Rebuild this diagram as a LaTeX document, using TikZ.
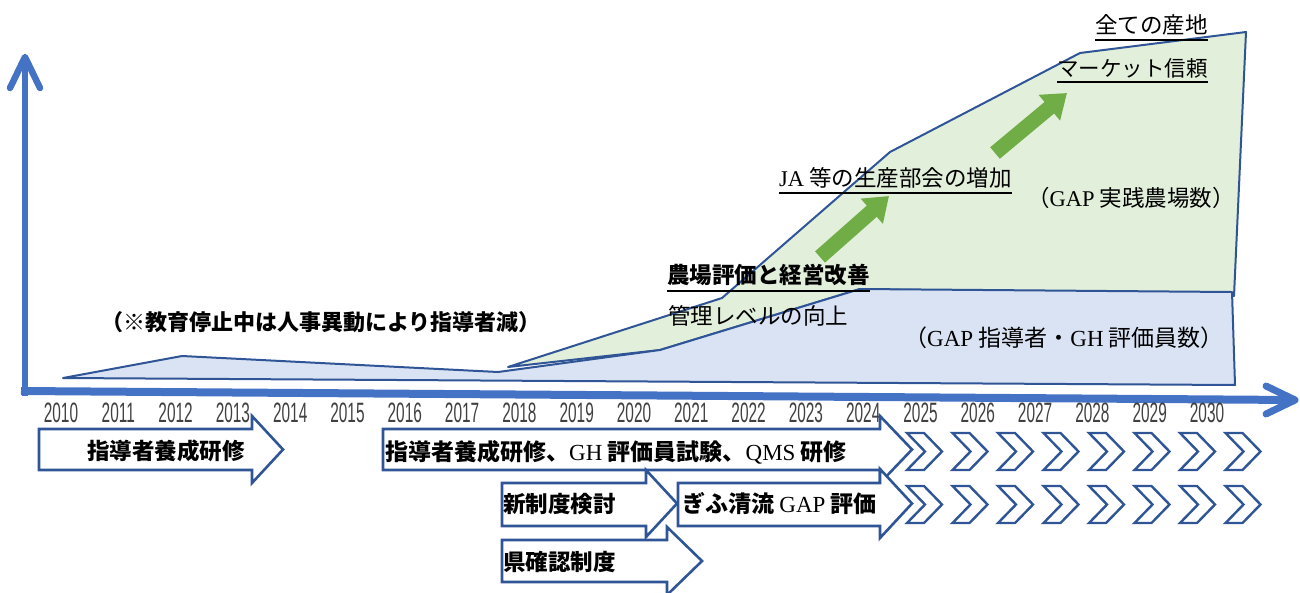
\documentclass[tikz,border=0pt]{standalone}
\usepackage{fontspec}
\setmainfont{Noto Sans CJK JP}
\newfontfamily\lser{Liberation Serif}
\newfontfamily\yfont[FakeStretch=0.55]{Liberation Sans}
\usetikzlibrary{arrows.meta,calc}
\definecolor{axisblue}{HTML}{4472C4}
\definecolor{edge}{HTML}{2F5597}
\definecolor{gfill}{HTML}{E2EFDA}
\definecolor{bfill}{HTML}{DAE3F3}
\definecolor{garrow}{HTML}{70AD47}
\definecolor{yeargray}{HTML}{404040}
\newcommand\fsz[1]{\fontsize{#1}{#1}\selectfont}
\newcommand\lat[1]{{\lser\mdseries #1}}
\begin{document}
\begin{tikzpicture}[x=1pt,y=-1pt,
  lbl/.style={inner sep=0pt, text=black},
  area/.style={draw=edge, line width=2pt, line join=round},
  blk/.style={draw=edge, line width=2.6pt, fill=white, line join=miter},
  chev/.style={draw=edge, line width=2.4pt, fill=white, line join=miter},
  axis/.style={draw=axisblue, line width=7pt},
  uline/.style={draw=black, line width=2.2pt},
  garr/.style={draw=garrow, line width=15pt, -{Triangle[width=32pt,length=23pt]}},
  year/.style={inner sep=0pt, text=yeargray, font=\yfont\fsz{28pt}},
]
\useasboundingbox (0,0) rectangle (1300,592);

% areas
\draw[area, fill=gfill] (508,367) -- (722,298) -- (890,152) -- (1080,53) -- (1246,32)
   -- (1234,296) -- (860,289) -- (660,350) -- cycle;
\draw[area, fill=bfill] (63,378) -- (182,356) -- (498,372) -- (660,350) -- (860,289)
   -- (1232,292) -- (1235,385) -- cycle;

% green growth arrows
\coordinate (g1s) at (820,257);
\coordinate (g1e) at (889,196);
\coordinate (g2s) at (995,153);
\coordinate (g2e) at (1067,93);
\draw[garr] (g1s) -- (g1e);
\draw[garr] (g2s) -- (g2e);

% labels in chart
\node[lbl, font=\bfseries\fsz{22pt}] (note) at (321,322) {（※教育停止中は人事異動により指導者減）};
\node[lbl, font=\bfseries\fsz{22.5pt}, anchor=west] (farm) at (667,275) {農場評価と経営改善};
\draw[uline] ($(farm.west)+(0,16)$) -- ($(farm.east)+(0,16)$);
\node[lbl, font=\fsz{22.5pt}, anchor=west] (mgmt) at (668,316) {管理レベルの向上};
\node[lbl, font=\fsz{22.5pt}, anchor=west] (ja) at (779,178) {\lat{JA} 等の生産部会の増加};
\draw[uline] ($(ja.west)+(0,15)$) -- ($(ja.east)+(0,15)$);
\node[lbl, font=\fsz{22.5pt}] (gapfarm) at (1131,198) {（\lat{GAP} 実践農場数）};
\node[lbl, font=\fsz{22.5pt}, anchor=west] (all) at (1095,25) {全ての産地};
\draw[uline] ($(all.west)+(0,15)$) -- ($(all.east)+(0,15)$);
\node[lbl, font=\fsz{21.5pt}, anchor=east] (market) at (1208,68) {マーケット信頼};
\draw[uline] ($(market.west)+(0,14)$) -- ($(market.east)+(0,14)$);
\node[lbl, font=\fsz{23pt}] (gapled) at (1064,338) {（\lat{GAP} 指導者・\lat{GH} 評価員数）};

% axes
\coordinate (O) at (25,396);
\coordinate (Ytip) at (25,57);
\coordinate (Yl) at (10,88);
\coordinate (Yr) at (40,88);
\coordinate (Xs) at (21,391);
\coordinate (Xtip) at (1295,400);
\coordinate (Xu) at (1266,386);
\coordinate (Xd) at (1266,414);
\draw[axis, line width=6.5pt] (O) -- (Ytip);
\draw[axis, line width=6.5pt, line cap=round, line join=round] (Yl) -- (Ytip) -- (Yr);
\draw[axis, line width=8pt] (Xs) -- (Xtip);
\draw[axis, line width=7pt, line cap=round, line join=round] (Xu) -- (Xtip) -- (Xd);

% years
\foreach \i in {0,...,20} {
  \node[year] (y\i) at ({61+57.3*\i},412.5) {\number\numexpr2010+\i\relax};
}

% block arrows
\draw[blk] (39,429) -- (252,429) -- (252,416) -- (283,449.5) -- (252,483) -- (252,470) -- (39,470) -- cycle;
\draw[blk] (383,429) -- (880,429) -- (880,416) -- (912,449.5) -- (880,483) -- (880,470) -- (383,470) -- cycle;
\draw[blk] (502,483) -- (646,483) -- (646,470) -- (677,503.5) -- (646,537) -- (646,526) -- (502,526) -- cycle;
\draw[blk] (502,540) -- (667,540) -- (667,527) -- (702,561) -- (667,595) -- (667,582) -- (502,582) -- cycle;
\draw[blk] (678,483) -- (880,483) -- (880,469) -- (912,503.5) -- (880,538) -- (880,526) -- (678,526) -- cycle;

\node[lbl, font=\bfseries\fsz{22.5pt}] (t1) at (166,451) {指導者養成研修};
\node[lbl, font=\bfseries\fsz{23pt}, anchor=west] (t2) at (385,452) {指導者養成研修、\lat{GH} 評価員試験、\lat{QMS} 研修};
\node[lbl, font=\bfseries\fsz{22.5pt}, anchor=west] (t3) at (503,504) {新制度検討};
\node[lbl, font=\bfseries\fsz{22.5pt}, anchor=west] (t4) at (503,562) {県確認制度};
\node[lbl, font=\bfseries\fsz{23pt}, anchor=west] (t5) at (682,504) {ぎふ清流 \lat{GAP} 評価};

% chevrons
\foreach \i in {0,...,7} {
  \draw[chev] ({907+45.5*\i},433) -- ++(17,0) -- ++(18,18.5) -- ++(-18,18.5) -- ++(-17,0) -- ++(18,-18.5) -- cycle;
  \draw[chev] ({907+45.5*\i},486) -- ++(17,0) -- ++(18,18.5) -- ++(-18,18.5) -- ++(-17,0) -- ++(18,-18.5) -- cycle;
}
\end{tikzpicture}
\end{document}
